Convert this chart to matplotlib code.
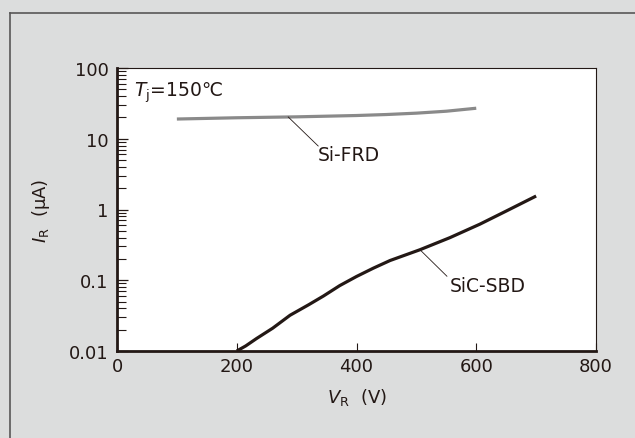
import numpy as np
import matplotlib.pyplot as plt
from matplotlib.ticker import NullFormatter, LogLocator

plt.rcParams['font.family'] = ['DejaVu Sans', 'Noto Sans CJK JP']

ink = '#231815'
bg = '#dcdddd'

# curves
frd_v = [100, 200, 300, 400, 450, 500, 550, 600]
frd_i = [19, 19.8, 20.4, 21.3, 22, 23, 24.5, 27]

sbd_v = [200, 215, 233, 260, 289, 320, 345, 372, 400, 428, 456, 506, 556, 606, 650, 700]
sbd_i = [0.01, 0.0118, 0.015, 0.021, 0.032, 0.045, 0.06, 0.084, 0.113, 0.148, 0.19, 0.27, 0.4, 0.62, 0.95, 1.55]

xticks = [0, 200, 400, 600, 800]
yticks = [0.01, 0.1, 1, 10, 100]
ylabels = ['0.01', '0.1', '1', '10', '100']

fig = plt.figure(figsize=(6.35, 4.39), dpi=100, facecolor=bg)
# outer frame (top and left edge only)
fig.add_artist(plt.Line2D([10/635, 1], [1 - 14/439, 1 - 14/439], color='#595757', lw=1.2))
fig.add_artist(plt.Line2D([10/635, 10/635], [0, 1 - 14/439], color='#595757', lw=1.2))

ax = fig.add_axes([117/635, 1 - 352/439, 479/635, 283/439])
ax.set_facecolor('white')

ax.plot(frd_v, frd_i, color='#8a8a8a', lw=2.3, solid_capstyle='butt')
ax.plot(sbd_v, sbd_i, color=ink, lw=2.3, solid_capstyle='butt', solid_joinstyle='round')

ax.set_yscale('log')
ax.set_xlim(0, 800)
ax.set_ylim(0.01, 100)
ax.set_xticks(xticks)
ax.set_xticklabels([str(t) for t in xticks])
ax.set_yticks(yticks)
ax.set_yticklabels(ylabels)
ax.yaxis.set_minor_locator(LogLocator(base=10, subs=np.arange(2, 10)))
ax.yaxis.set_minor_formatter(NullFormatter())

ax.tick_params(axis='x', which='both', direction='in', length=6, width=0.8, color=ink,
               labelsize=13, labelcolor=ink, pad=4, top=False)
ax.tick_params(axis='y', which='major', direction='in', length=8, width=0.9, color=ink,
               labelsize=13, labelcolor=ink, pad=6, right=False)
ax.tick_params(axis='y', which='minor', direction='in', length=6.5, width=0.8, color=ink, right=False)

for s in ['left', 'bottom']:
    ax.spines[s].set_linewidth(2.0)
    ax.spines[s].set_color(ink)
for s in ['top', 'right']:
    ax.spines[s].set_linewidth(0.8)
    ax.spines[s].set_color(ink)

ax.set_xlabel(r'$V_{\mathrm{R}}$  (V)', fontsize=13, color=ink, labelpad=8)
ax.set_ylabel(r'$I_{\mathrm{R}}$  (μA)', fontsize=13, color=ink, labelpad=12)

ax.text(0.035, 0.915, r'$T_{\mathrm{j}}$=150℃', transform=ax.transAxes, fontsize=13.5,
        color=ink, va='center', ha='left')

# labels with leader lines
ax.plot([286, 336], [20.3, 7.9], color=ink, lw=0.6)
ax.text(336, 5.9, 'Si-FRD', fontsize=13.5, color=ink, va='center', ha='left')
ax.plot([506, 551], [0.27, 0.114], color=ink, lw=0.6)
ax.text(555, 0.084, 'SiC-SBD', fontsize=13.5, color=ink, va='center', ha='left')

fig.savefig('out.png', dpi=100, facecolor=bg)
